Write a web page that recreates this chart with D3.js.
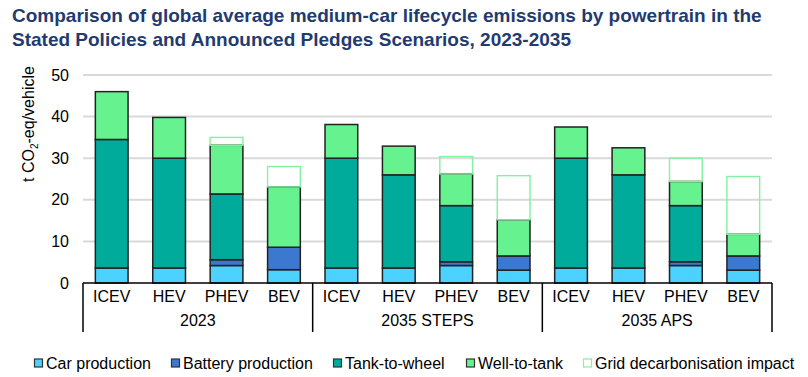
<!DOCTYPE html>
<html>
<head>
<meta charset="utf-8">
<script src="https://cdn.jsdelivr.net/npm/d3@7"></script>
<style>
    body { margin: 0; background: #fff; }
    svg { font-family: "Liberation Sans", Arial, sans-serif; display: block; }
</style>
</head>
<body>
<div id="chart"></div>
<script>
// chart data
const groups = ["2023", "2035 STEPS", "2035 APS"];
const powertrains = ["ICEV", "HEV", "PHEV", "BEV"];
const carProduction     = [3.6, 3.6, 4.2, 3.2,  3.6, 3.6, 4.2, 3.1,  3.6, 3.6, 4.2, 3.1];
const batteryProduction = [0,   0,   1.4, 5.4,  0,   0,   0.9, 3.4,  0,   0,   0.9, 3.4];
const tankToWheel       = [30.9, 26.4, 15.8, 0, 26.4, 22.4, 13.5, 0,  26.4, 22.4, 13.5, 0];
const wellToTank        = [11.5, 9.8, 11.7, 14.5, 8.1, 6.9, 7.6, 8.7, 7.5, 6.5, 5.8, 5.2];
const gridImpact        = [0,   0,   1.9, 4.9,  0,   0,   4.2, 10.6, 0,   0,   5.6, 13.9];
const yTicks = [0, 10, 20, 30, 40, 50];

const seriesNames = ["Car production", "Battery production", "Tank-to-wheel", "Well-to-tank", "Grid decarbonisation impact"];
const keys = ["car", "battery", "ttw", "wtt", "grid"];
const fills = ["#4cd2ff", "#3d78d0", "#00ab9b", "#66f28f", "none"];
const strokes = ["#222", "#222", "#222", "#222", "#80f2a2"];

const W = 808, H = 377;
const margin = { top: 75, left: 83, right: 36, bottom: 94 };
const plotW = W - margin.left - margin.right;
const plotH = H - margin.top - margin.bottom;

const svg = d3.select("#chart").append("svg").attr("width", W).attr("height", H);

// title
const title = svg.append("text").attr("x", 12).attr("fill", "#1f3b70")
    .style("font-size", "19px").style("font-weight", "bold");
title.append("tspan").attr("x", 12).attr("y", 22).text("Comparison of global average medium-car lifecycle emissions by powertrain in the");
title.append("tspan").attr("x", 12).attr("y", 46).text("Stated Policies and Announced Pledges Scenarios, 2023-2035");

// build rows
const rows = [];
groups.forEach((g, gi) => {
    powertrains.forEach((p, pi) => {
        const i = gi * 4 + pi;
        rows.push({
            id: g + "|" + p, group: g, pt: p,
            car: carProduction[i], battery: batteryProduction[i], ttw: tankToWheel[i],
            wtt: wellToTank[i], grid: gridImpact[i]
        });
    });
});

const x = d3.scaleBand().domain(rows.map(d => d.id)).range([0, plotW]).paddingInner(0.43).paddingOuter(0.215);
const y = d3.scaleLinear().domain([0, 50]).range([plotH, 0]);

const g = svg.append("g").attr("transform", `translate(${margin.left},${margin.top})`);

// gridlines
g.append("g").selectAll("line").data(yTicks.filter(t => t > 0)).join("line")
    .attr("x1", 0).attr("x2", plotW)
    .attr("y1", d => y(d)).attr("y2", d => y(d))
    .attr("stroke", "#d9d9d9").attr("stroke-width", 2);

// y tick labels
g.append("g").selectAll("text").data(yTicks).join("text")
    .attr("x", -14).attr("y", d => y(d)).attr("dy", "0.35em")
    .attr("text-anchor", "end").style("font-size", "16px").attr("fill", "#000")
    .text(d => d);

// y title
const yt = svg.append("text").attr("transform", `translate(34,${124}) rotate(-90)`)
    .attr("text-anchor", "middle").style("font-size", "16px").attr("fill", "#000");
yt.append("tspan").text("t CO");
yt.append("tspan").text("2").style("font-size", "10px").attr("dy", 4);
yt.append("tspan").text("-eq/vehicle").attr("dy", -4);

// stacked bars
const stacked = d3.stack().keys(keys)(rows);
stacked.forEach((layer, li) => {
    g.append("g").selectAll("rect").data(layer.filter(d => d[1] - d[0] > 0)).join("rect")
        .attr("x", d => x(d.data.id))
        .attr("width", x.bandwidth())
        .attr("y", d => y(d[1]))
        .attr("height", d => y(d[0]) - y(d[1]))
        .attr("fill", fills[li])
        .attr("stroke", strokes[li])
        .attr("stroke-width", li === 4 ? 1.4 : 1.5);
});

// x axis line
g.append("line").attr("x1", 0).attr("x2", plotW).attr("y1", plotH).attr("y2", plotH)
    .attr("stroke", "#000").attr("stroke-width", 1.5);

// group separators
const groupW = plotW / groups.length;
g.append("g").selectAll("line").data(d3.range(groups.length + 1)).join("line")
    .attr("x1", d => d * groupW).attr("x2", d => d * groupW)
    .attr("y1", plotH).attr("y2", plotH + 49)
    .attr("stroke", "#000").attr("stroke-width", 1.5);

// powertrain labels
g.append("g").selectAll("text").data(rows).join("text")
    .attr("x", d => x(d.id) + x.bandwidth() / 2).attr("y", plotH + 19)
    .attr("text-anchor", "middle").style("font-size", "16px").attr("fill", "#000")
    .text(d => d.pt);

// group labels
g.append("g").selectAll("text").data(groups).join("text")
    .attr("x", (d, i) => (i + 0.5) * groupW).attr("y", plotH + 43)
    .attr("text-anchor", "middle").style("font-size", "16px").attr("fill", "#000")
    .text(d => d);

// legend
const legendX = [34, 171, 333, 466, 583];
const leg = svg.append("g").selectAll("g").data(seriesNames).join("g")
    .attr("transform", (d, i) => `translate(${legendX[i]},363)`);
leg.append("rect").attr("x", 0.5).attr("y", -4).attr("width", 8).attr("height", 8)
    .attr("fill", (d, i) => fills[i] === "none" ? "#fff" : fills[i])
    .attr("stroke", (d, i) => i === 4 ? strokes[i] : "#333").attr("stroke-width", 1.2);
leg.append("text").attr("x", 12).attr("dy", "0.35em").style("font-size", "16px").attr("fill", "#000")
    .text(d => d);
</script>
</body>
</html>
